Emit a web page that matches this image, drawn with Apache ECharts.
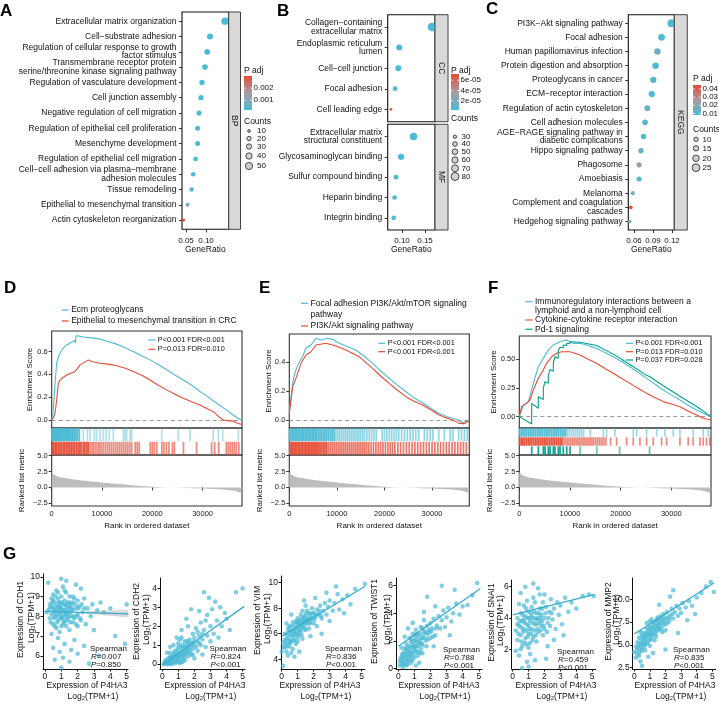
<!DOCTYPE html>
<html>
<head>
<meta charset="utf-8">
<script src="https://cdn.jsdelivr.net/npm/echarts@6.0.0/dist/echarts.min.js"></script>
<style>
html,body{margin:0;padding:0;background:#ffffff;}
#chart{width:719px;height:705px;}
</style>
</head>
<body>
<div id="chart"></div>
<script>
// ================= DATA =================
// ---- Panel A : GO BP ----
const aCats = ['Extracellular matrix organization','Cell\u2212substrate adhesion','Regulation of cellular response to growth\nfactor stimulus','Transmembrane receptor protein\nserine/threonine kinase signaling pathway','Regulation of vasculature development','Cell junction assembly','Negative regulation of cell migration','Regulation of epithelial cell proliferation','Mesenchyme development','Regulation of epithelial cell migration','Cell\u2212cell adhesion via plasma\u2212membrane\nadhesion molecules','Tissue remodeling','Epithelial to mesenchymal transition','Actin cytoskeleton reorganization'];
const aRatio = [0.1475,0.110,0.103,0.0975,0.090,0.0875,0.0825,0.079,0.079,0.074,0.068,0.064,0.054,0.044];
const aPadj  = [0.0002,0.0002,0.0002,0.0002,0.0002,0.0002,0.0002,0.00021,0.00021,0.00022,0.00025,0.0003,0.0008,0.003];
const aCount = [52,37,35,33,31,30,28,27,27,25,23,22,18,12];
const aXTicks = [0.05,0.10];
const aPTicks = [0.001,0.002];
const aCountLegend = [10,20,30,40,50];
// ---- Panel B : GO CC / MF ----
const bCatsCC = ['Collagen\u2212containing\nextracellular matrix','Endoplasmic reticulum\nlumen','Cell\u2212cell junction','Focal adhesion','Cell leading edge'];
const bRatioCC = [0.165,0.094,0.092,0.085,0.076];
const bPadjCC = [2e-6,2e-6,2e-6,3e-6,7.2e-5];
const bCountCC = [85,55,55,42,25];
const bCatsMF = ['Extracellular matrix\nstructural constituent','Glycosaminoglycan binding','Sulfur compound binding','Heparin binding','Integrin binding'];
const bRatioMF = [0.125,0.098,0.087,0.084,0.082];
const bPadjMF = [2e-6,2e-6,2e-6,2e-6,3e-6];
const bCountMF = [75,60,42,40,40];
const bXTicks = [0.10,0.15];
const bPTicks = [2e-5,4e-5,6e-5];
const bCountLegend = [30,40,50,60,70,80];
// ---- Panel C : KEGG ----
const cCats = ['PI3K\u2212Akt signaling pathway','Focal adhesion','Human papillomavirus infection','Protein digestion and absorption','Proteoglycans in cancer','ECM\u2212receptor interaction','Regulation of actin cytoskeleton','Cell adhesion molecules','AGE\u2212RAGE signaling pathway in\ndiabetic complications','Hippo signaling pathway','Phagosome','Amoebiasis','Melanoma','Complement and coagulation\ncascades','Hedgehog signaling pathway'];
const cRatio = [0.119,0.1035,0.097,0.094,0.0905,0.088,0.081,0.0775,0.075,0.071,0.068,0.068,0.058,0.055,0.053];
const cPadj  = [0.008,0.008,0.015,0.008,0.009,0.008,0.013,0.009,0.009,0.014,0.025,0.010,0.016,0.045,0.016];
const cCount = [25,21,20,20,19,19,17,16,15,15,14,14,9,7,6];
const cXTicks = [0.06,0.09,0.12];
const cPTicks = [0.01,0.02,0.03,0.04];
const cCountLegend = [10,15,20,25];

// ---- GSEA (D, E, F) ----
const RANK_MAX = 37830;
const rankTicks = [0,10000,20000,30000];
const metricTicks = [5,2.5,0,-2.5];
const metricRank  = [0,200,500,1000,1500,2000,3000,4000,5000,6000,8000,10000,12000,14000,16000,18000,20000,22000,24000,26000,28000,30000,32000,34000,35000,36000,36500,37000,37500,37830];
const metricValue = [2.4,2.2,2.0,1.8,1.65,1.55,1.45,1.3,1.2,1.1,0.95,0.78,0.62,0.48,0.35,0.22,0.12,0.04,-0.02,-0.07,-0.12,-0.18,-0.25,-0.33,-0.4,-0.5,-0.58,-0.68,-0.85,-1.0];

const dNames = ['Ecm proteoglycans','Epithelial to mesenchymal transition in CRC'];
const dStats = ['P<0.001 FDR<0.001','P=0.013 FDR=0.010'];
const dESBlue = [[0,0.0],[300,0.08],[660,0.32],[990,0.5],[1300,0.55],[1650,0.585],[2100,0.62],[2640,0.645],[3100,0.66],[3640,0.674],[4100,0.685],[4630,0.697],[4700,0.675],[4830,0.738],[5500,0.735],[6280,0.727],[8000,0.72],[9600,0.709],[11000,0.69],[12900,0.665],[14500,0.635],[16200,0.6],[18000,0.56],[19540,0.527],[21000,0.49],[22860,0.44],[24500,0.395],[26160,0.35],[28000,0.3],[29480,0.25],[31000,0.205],[32800,0.147],[34500,0.095],[36100,0.044],[37000,0.015],[37830,0.0]];
const dESRed = [[0,0.0],[330,0.02],[660,0.06],[1000,0.18],[1320,0.32],[1650,0.35],[2300,0.375],[2980,0.395],[3800,0.41],[4630,0.425],[5100,0.45],[5630,0.483],[6500,0.505],[7290,0.527],[7950,0.512],[9600,0.498],[11200,0.49],[12900,0.475],[14500,0.455],[16200,0.425],[18000,0.39],[19540,0.35],[21200,0.305],[22860,0.264],[24500,0.225],[26160,0.19],[27800,0.16],[29480,0.132],[30800,0.1],[32130,0.073],[33200,0.03],[34120,0.0],[35000,-0.005],[36100,-0.01],[37100,-0.03],[37830,-0.04]];
const dHitsBlue = [60,160,260,380,480,600,720,850,980,1100,1230,1350,1500,1650,1800,1950,2150,2300,2450,2650,2850,3000,3200,3400,3600,3850,4100,4350,4600,4830,5150,5500,6290,7090,7610,8480,8940,9600,10260,10800,11450,12250,14240,14600,14910,15570,15900,21870,25170,27500,32130,33130,33990,37100];
const dHitsRed = [100,400,700,1000,1300,1650,1950,2300,2600,2950,3250,3600,3900,4250,4550,4900,5250,5600,5900,6300,6600,7000,7290,7700,8050,8400,8800,9200,9550,9900,10300,10700,11100,11500,11900,12300,12700,13100,13500,13900,14300,14700,15100,15500,15900,16600,17000,17400,19600,20000,20400,20900,21900,22300,22800,23300,24000,24400,26200,28800,31800,32400,33200,34700,35100,35500,35900,36300,36700,37200];

const eNames = ['Focal adhesion PI3K/Akt/mTOR signaling\npathway','PI3K/Akt signaling pathway'];
const eStats = ['P<0.001 FDR<0.001','P<0.001 FDR<0.001'];
const eESBlue = [[0,0.069],[350,0.15],[700,0.254],[1050,0.312],[1750,0.38],[2800,0.44],[3500,0.497],[4550,0.52],[5600,0.566],[6650,0.555],[8050,0.566],[9100,0.559],[10500,0.532],[12200,0.51],[14000,0.485],[15800,0.44],[17500,0.393],[19200,0.34],[21000,0.289],[22800,0.24],[24500,0.196],[26200,0.155],[28000,0.12],[29800,0.08],[31500,0.046],[33000,0.025],[34300,0.012],[35500,0.0],[36400,-0.018],[37100,-0.01],[37830,0.0]];
const eESRed = [[0,0.04],[700,0.23],[1400,0.289],[2450,0.393],[3500,0.45],[4550,0.473],[5600,0.52],[7700,0.532],[9800,0.513],[11900,0.485],[14700,0.439],[17500,0.358],[19200,0.305],[21000,0.254],[22800,0.205],[24500,0.162],[26200,0.13],[28000,0.104],[29800,0.07],[31500,0.035],[33000,0.015],[34300,0.0],[35700,-0.023],[36700,-0.025],[37830,-0.005]];
const eHitsBlue = [50,350,650,950,1250,1550,1850,2150,2450,2750,3050,3350,3650,3950,4250,4550,4850,5150,5450,5750,6100,6450,6800,7150,7500,7850,8200,8600,9000,9400,9800,10200,10600,11000,11400,11800,12200,12600,13000,13400,13800,14200,14600,15000,15400,15800,16300,16800,17300,17800,18300,19500,20000,20500,21000,21500,22000,22500,23000,23600,24200,24800,25400,26000,26600,27200,28400,29000,29600,30200,31400,32600,33800,34400,35600,36200,36800,37400];
const eHitsRed = [100,400,700,1000,1300,1600,1900,2200,2500,2800,3100,3400,3700,4000,4300,4600,4900,5200,5500,5800,6100,6450,6800,7150,7500,7850,8250,8650,9050,9450,9850,10250,10650,11050,11450,11850,12250,12650,13050,13450,13850,14250,14650,15050,15450,15850,16250,16700,17200,17700,18200,18700,19200,19700,20200,20700,21200,21700,22200,22800,23400,24000,24600,25200,25800,26400,27000,27600,28200,28800,29400,30000,30600,31200,31800,32400,33000,33600,34200,34800,35400,36000,36600,37200];

const fNames = ['Immunoregulatory interactions between a\nlymphoid and a non-lymphoid cell','Cytokine-cytokine receptor interaction','Pd-1 signaling'];
const fStats = ['P<0.001 FDR<0.001','P=0.013 FDR=0.010','P=0.037 FDR=0.028'];
const fESBlue = [[0,0],[790,0.1],[1780,0.13],[2760,0.29],[3750,0.435],[4730,0.508],[5720,0.58],[6700,0.625],[8020,0.653],[9340,0.668],[10650,0.639],[11970,0.639],[13600,0.62],[15250,0.595],[16900,0.56],[18540,0.522],[20200,0.48],[21830,0.435],[23500,0.385],[25120,0.334],[26800,0.283],[28410,0.232],[30000,0.19],[31700,0.145],[33300,0.1],[34990,0.058],[36300,0.03],[37830,0.0]];
const fESRed = [[0,0],[460,0.087],[1450,0.116],[2100,0.145],[2760,0.232],[3750,0.334],[4730,0.407],[5390,0.465],[6380,0.522],[7370,0.552],[8350,0.566],[10000,0.566],[11970,0.537],[13600,0.5],[15250,0.465],[16900,0.42],[18540,0.378],[20200,0.333],[21830,0.29],[23500,0.245],[25120,0.203],[26800,0.165],[28410,0.131],[30000,0.11],[31700,0.087],[33300,0.05],[34990,0.015],[36300,-0.014],[37830,-0.029]];
const fESGreen = [[0,0],[2440,-0.064],[2450,0.116],[3750,0.073],[3760,0.174],[4740,0.15],[4750,0.25],[5070,0.24],[5080,0.305],[5720,0.29],[5730,0.36],[6050,0.35],[6060,0.41],[6710,0.395],[6720,0.47],[7040,0.46],[7050,0.523],[7690,0.51],[7700,0.58],[8030,0.575],[8040,0.605],[8680,0.6],[8690,0.625],[9350,0.62],[9360,0.64],[10000,0.635],[10010,0.653],[11990,0.648],[12000,0.66],[15250,0.62],[18540,0.545],[21830,0.455],[25120,0.36],[25700,0.35],[25710,0.36],[28410,0.27],[31700,0.178],[34990,0.088],[37830,0.0]];
const fHitsBlue = [80,400,750,1100,1450,1800,2150,2500,2850,3200,3550,3900,4250,4600,4950,5300,5650,6000,6350,6700,7050,7400,7750,8100,8450,8800,9150,9500,9900,10300,10700,11100,11500,11900,12300,12700,14000,16570,17230,18870,22480,23150,25120,27100,28740,30380,31700,34320,36290,37280];
const fHitsRed = [60,380,700,1050,1400,1750,2100,2450,2800,3150,3500,3850,4200,4550,4900,5250,5600,5950,6300,6650,7000,7350,7700,8050,8400,8750,9100,9450,9800,10150,10500,10850,11200,11550,11900,12250,12600,12950,13300,13650,14000,14350,14700,15100,15500,15900,16300,16700,17100,18000,19200,21180,22490,23810,25120,26430,28080,29070,31700,33330,34320,35640,36290,36950,37610];
const fHitsGreen = [2450,3760,4750,5080,5730,6060,6720,7050,7700,8040,8690,9360,10010,12000,15300,19800,25710];

// ---- Panel G : correlation scatter plots ----
const gGenes = ['CDH1','CDH2','VIM','TWIST1','SNAI1','MMP2'];
const gR = ['0.007','0.824','0.836','0.788','0.459','0.835'];
const gP = ['=0.850','<0.001','<0.001','<0.001','<0.001','<0.001'];
const gXTicks = [0,1,2,3,4,5];
const gYTicks = [[6,7,8,9,10],[0,1,2,3,4],[4,6,8,10],[0,2,4,6],[2,4,6],[2.5,5,7.5,10]];
const cdh1Pts = [[0.2,8.3],[0.3,7.9],[0.3,8.6],[0.4,8.1],[0.4,8.9],[0.5,7.6],[0.5,8.4],[0.5,9.1],[0.6,8.0],[0.6,8.7],[0.7,7.4],[0.7,8.3],[0.7,9.3],[0.8,7.8],[0.8,8.5],[0.8,8.9],[0.9,8.1],[0.9,7.2],[0.9,8.7],[1.0,7.9],[1.0,8.4],[1.0,9.0],[1.0,8.2],[1.1,7.6],[1.1,8.6],[1.1,9.5],[1.2,8.0],[1.2,8.3],[1.2,8.8],[1.3,7.5],[1.3,8.5],[1.3,9.2],[1.4,7.9],[1.4,8.2],[1.4,8.7],[1.5,7.3],[1.5,8.4],[1.5,9.0],[1.6,8.0],[1.6,8.6],[1.7,7.7],[1.7,8.3],[1.8,8.9],[1.8,7.9],[1.9,8.4],[2.0,7.5],[2.0,8.1],[2.0,8.8],[2.1,8.5],[2.2,7.8],[2.3,8.2],[2.4,8.9],[2.5,7.6],[2.6,8.4],[2.8,8.0],[2.9,8.6],[3.0,7.3],[3.2,8.3],[3.4,8.7],[3.6,8.2],[4.0,8.4],[4.3,7.0],[5.0,8.6],[0.1,8.2],[0.2,9.7],[0.5,6.4],[0.6,5.8],[0.8,6.9],[1.0,9.9],[1.1,5.9],[1.2,6.6],[1.3,9.8],[1.5,5.7],[1.6,6.3],[1.8,6.8],[1.9,9.6],[2.0,6.1],[2.2,9.4],[2.4,6.5],[2.7,5.6],[1.0,5.4],[3.3,6.0],[0.4,7.1],[0.9,6.2],[0.6,8.3],[0.9,8.5],[1.2,7.7],[1.5,8.7],[0.4,8.5],[0.7,8.0],[1.3,8.1],[1.7,9.0],[4.9,6.6],
  [0.3,8.4],[0.35,7.7],[0.45,8.7],[0.55,8.2],[0.55,7.9],[0.65,8.5],[0.65,9.0],[0.75,8.1],[0.75,7.7],[0.85,8.3],[0.85,8.7],[0.95,7.9],[0.95,8.4],[1.05,8.0],[1.05,8.7],[1.15,8.3],[1.15,7.8],[1.25,8.6],[1.25,8.1],[1.35,8.3],[1.35,7.8],[1.45,8.5],[1.45,8.0],[1.55,8.2],[1.55,7.7],[1.65,8.4],[1.75,8.0],[1.85,8.6],[1.95,8.0],[2.05,8.4],[2.15,7.9],[2.25,8.6],[0.5,8.8],[0.8,9.2],[1.2,9.3],[1.0,7.5],[0.6,7.5],[1.9,7.6],[2.4,8.4],[1.7,8.7]];
const cdh2Pts = [[0.1,0.0],[0.2,0.05],[0.2,0.2],[0.3,0.0],[0.3,0.1],[0.4,0.3],[0.4,0.05],[0.5,0.1],[0.5,0.4],[0.6,0.2],[0.6,0.0],[0.7,0.5],[0.7,0.15],[0.8,0.3],[0.8,0.7],[0.9,0.1],[0.9,0.45],[1.0,0.6],[1.0,0.25],[1.0,0.9],[1.1,0.4],[1.1,0.05],[1.2,0.7],[1.2,0.3],[1.3,0.9],[1.3,0.5],[1.4,1.2],[1.4,0.2],[1.5,0.6],[1.5,1.0],[1.6,0.8],[1.6,0.4],[1.7,1.3],[1.7,0.9],[1.8,0.5],[1.8,1.1],[1.9,1.6],[1.9,0.8],[2.0,1.0],[2.0,1.4],[2.0,0.3],[2.1,1.9],[2.2,1.2],[2.2,0.7],[2.3,1.5],[2.4,2.2],[2.4,1.0],[2.5,1.3],[2.6,1.8],[2.7,0.9],[2.8,1.5],[2.8,2.6],[3.0,1.2],[3.0,2.0],[3.1,2.9],[3.2,1.6],[3.4,2.3],[3.5,1.4],[3.7,2.0],[3.9,2.7],[4.2,1.8],[4.6,3.8],[5.0,4.0],[2.6,3.8],[2.9,3.5],[1.5,2.4],[1.8,2.9],[1.2,1.8],[0.9,1.4],[0.5,0.9],[2.3,2.8],[3.3,3.3],[4.0,2.4],[1.6,2.0],[2.5,0.5],[0.3,0.6],[0.7,1.0],[1.1,1.3],[2.7,2.3],[3.6,3.0],[0.4,0.0],[0.8,0.05],[1.2,0.1],[0.6,0.35],[1.0,0.45],[1.4,0.65],
  [0.25,0.15],[0.35,0.25],[0.45,0.2],[0.55,0.3],[0.55,0.05],[0.65,0.4],[0.65,0.1],[0.75,0.3],[0.75,0.6],[0.85,0.2],[0.85,0.5],[0.95,0.35],[0.95,0.75],[1.05,0.5],[1.05,0.15],[1.15,0.6],[1.15,0.9],[1.25,0.45],[1.25,1.0],[1.35,0.7],[1.35,0.35],[1.45,0.9],[1.45,0.5],[1.55,0.8],[1.55,1.2],[1.65,0.6],[1.65,1.1],[1.75,0.7],[1.85,1.0],[1.95,1.2],[2.1,0.9],[2.3,1.1],[0.15,0.1],[0.5,0.6],[1.0,1.1],[1.3,0.15],[1.9,0.5],[2.5,1.6],[2.2,1.7],[1.2,1.4]];
const vimPts = [[0.0,4.6],[0.1,3.5],[0.1,5.3],[0.2,5.0],[0.2,6.0],[0.3,4.6],[0.3,5.6],[0.4,5.2],[0.4,6.3],[0.5,5.0],[0.5,5.9],[0.5,6.6],[0.6,5.4],[0.6,6.2],[0.7,4.8],[0.7,5.8],[0.7,6.9],[0.8,5.5],[0.8,6.4],[0.9,6.0],[0.9,7.0],[0.9,5.2],[1.0,6.3],[1.0,5.7],[1.0,7.2],[1.1,6.6],[1.1,5.9],[1.2,6.9],[1.2,6.2],[1.2,7.5],[1.3,6.5],[1.3,5.6],[1.4,7.0],[1.4,6.7],[1.5,6.3],[1.5,7.4],[1.6,6.8],[1.6,7.8],[1.7,7.1],[1.7,6.4],[1.8,7.5],[1.8,6.9],[1.9,7.2],[1.9,8.0],[2.0,6.8],[2.0,7.6],[2.1,7.3],[2.2,7.9],[2.2,6.6],[2.3,7.5],[2.4,8.2],[2.5,7.2],[2.6,7.8],[2.7,8.4],[2.8,7.5],[2.9,8.1],[3.0,7.0],[3.0,8.6],[3.2,7.8],[3.3,8.4],[3.5,9.1],[3.6,7.9],[3.8,8.7],[4.1,9.0],[4.3,8.3],[4.6,9.5],[3.4,9.7],[5.2,9.9],[1.4,8.6],[0.6,7.5],[2.5,6.0],[1.1,4.6],[0.3,6.8],[1.8,5.8],[2.8,9.2],[3.9,7.6],[0.8,4.2],[1.5,8.2],[2.1,8.8],[0.4,4.3],[0.2,5.5],[0.5,5.4],[0.8,6.1],[1.1,6.9],[1.3,7.2],[1.6,7.1],
  [0.25,5.3],[0.35,5.9],[0.45,5.6],[0.45,6.5],[0.55,6.2],[0.55,5.3],[0.65,5.9],[0.65,6.6],[0.75,6.2],[0.75,5.5],[0.85,6.7],[0.85,5.9],[0.95,6.4],[0.95,6.9],[1.05,6.0],[1.05,6.7],[1.15,6.3],[1.15,7.1],[1.25,6.6],[1.25,5.9],[1.35,6.9],[1.35,7.3],[1.45,6.4],[1.45,7.1],[1.55,6.9],[1.55,7.6],[1.65,7.2],[1.75,6.8],[1.75,7.6],[1.85,7.2],[1.95,7.6],[2.05,7.1],[2.15,7.5],[2.35,7.8],[2.45,7.4],[0.15,4.9],[0.35,5.0],[0.6,4.5],[1.0,5.4],[1.3,7.8]];
const twist1Pts = [[0.1,0.5],[0.1,0.2],[0.2,0.8],[0.2,0.3],[0.3,1.1],[0.3,0.6],[0.4,0.4],[0.4,1.4],[0.5,0.9],[0.5,0.2],[0.5,1.8],[0.6,1.2],[0.6,0.6],[0.7,1.5],[0.7,0.9],[0.7,2.2],[0.8,1.1],[0.8,0.4],[0.9,1.7],[0.9,2.5],[1.0,1.3],[1.0,2.0],[1.0,0.8],[1.1,1.6],[1.1,2.8],[1.2,2.1],[1.2,1.2],[1.3,1.8],[1.3,2.5],[1.4,1.4],[1.4,3.0],[1.5,2.2],[1.5,1.7],[1.6,2.7],[1.6,3.5],[1.7,2.0],[1.8,2.5],[1.8,3.1],[1.9,2.8],[2.0,2.2],[2.0,3.3],[2.1,2.9],[2.2,3.6],[2.3,2.4],[2.4,3.1],[2.5,3.8],[2.6,2.9],[2.7,3.5],[2.8,4.2],[2.9,3.0],[3.0,3.7],[3.1,4.4],[3.3,3.4],[3.4,4.0],[3.6,4.7],[3.8,3.9],[4.0,4.5],[4.3,4.6],[4.9,6.2],[1.8,5.2],[2.3,4.5],[2.7,6.0],[3.5,5.7],[0.9,3.3],[0.4,2.3],[1.3,0.4],[2.2,1.6],[3.2,2.4],[0.6,2.9],[1.6,4.1],[4.6,5.3],[0.2,1.5],[1.1,0.2],[0.3,0.1],[0.6,0.3],[0.9,0.6],[1.2,0.9],[1.5,1.1],[0.8,1.9],[1.0,1.6],
  [0.15,0.7],[0.25,0.5],[0.35,0.9],[0.35,0.3],[0.45,0.7],[0.45,1.1],[0.55,0.5],[0.55,1.3],[0.65,0.9],[0.65,1.6],[0.75,1.2],[0.75,0.6],[0.85,1.5],[0.85,0.9],[0.95,1.1],[0.95,2.0],[1.05,1.5],[1.05,2.3],[1.15,1.2],[1.15,1.9],[1.25,1.6],[1.25,2.4],[1.35,2.0],[1.35,1.1],[1.45,2.2],[1.45,1.8],[1.55,2.5],[1.65,2.2],[1.75,2.6],[1.75,1.6],[1.85,2.1],[1.95,2.6],[2.05,2.7],[2.15,2.3],[2.35,2.9],[0.25,1.0],[0.5,1.5],[0.8,2.1],[1.1,2.5],[1.5,2.9]];
const snai1Pts = [[0.2,3.2],[0.3,2.6],[0.3,4.0],[0.4,3.5],[0.4,1.6],[0.5,2.9],[0.5,4.3],[0.6,3.8],[0.6,2.2],[0.7,3.3],[0.7,4.8],[0.8,2.7],[0.8,4.1],[0.9,3.6],[0.9,1.2],[0.9,5.1],[1.0,3.0],[1.0,4.4],[1.0,0.9],[1.1,3.8],[1.1,2.4],[1.2,4.7],[1.2,3.3],[1.3,4.0],[1.3,2.8],[1.3,6.2],[1.4,3.6],[1.4,5.0],[1.5,4.3],[1.5,2.5],[1.6,3.9],[1.6,3.1],[1.7,4.6],[1.7,5.5],[1.8,3.5],[1.8,4.2],[1.9,2.9],[1.9,5.0],[2.0,4.0],[2.0,3.3],[2.1,4.7],[2.2,3.7],[2.2,2.2],[2.3,4.4],[2.4,5.2],[2.5,3.9],[2.6,4.6],[2.7,3.3],[2.8,5.0],[2.9,4.2],[3.0,4.8],[3.1,3.6],[3.3,5.3],[3.5,4.4],[3.7,5.0],[4.0,4.6],[4.4,5.4],[4.8,5.5],[5.1,5.4],[0.5,5.6],[0.2,1.9],[1.1,1.7],[2.1,1.4],[0.8,6.0],[1.6,5.9],[2.6,2.6],[3.2,2.9],[0.4,4.9],[1.4,1.3],[0.6,0.8],[0.7,3.9],[1.0,3.5],[1.2,4.1],[1.5,3.6],[0.9,2.3],[1.7,3.7],
  [0.35,3.0],[0.45,3.8],[0.55,3.4],[0.55,2.5],[0.65,4.2],[0.65,3.1],[0.75,3.7],[0.75,2.4],[0.85,3.2],[0.85,4.6],[0.95,4.0],[0.95,2.8],[1.05,3.3],[1.05,4.0],[1.15,4.3],[1.15,3.0],[1.25,3.7],[1.25,2.6],[1.35,4.4],[1.35,3.2],[1.45,3.9],[1.45,2.9],[1.55,4.0],[1.55,3.3],[1.65,4.3],[1.75,3.2],[1.75,4.0],[1.85,3.8],[1.85,4.6],[1.95,3.5],[2.05,4.3],[2.15,3.1],[2.25,4.0],[2.35,3.5],[2.45,4.3],[0.3,3.6],[0.5,2.0],[1.0,2.1],[1.3,5.3],[2.0,5.5]];
const mmp2Pts = [[0.0,4.2],[0.1,3.6],[0.1,4.8],[0.2,5.3],[0.2,4.0],[0.3,4.6],[0.3,5.8],[0.4,5.1],[0.4,3.2],[0.5,4.4],[0.5,6.0],[0.6,5.5],[0.6,4.8],[0.7,6.3],[0.7,5.0],[0.8,5.8],[0.8,6.8],[0.9,5.4],[0.9,6.5],[1.0,6.1],[1.0,7.0],[1.0,4.9],[1.1,6.6],[1.1,5.7],[1.2,7.3],[1.2,6.2],[1.3,6.9],[1.3,5.5],[1.4,7.6],[1.4,6.5],[1.5,7.1],[1.5,8.0],[1.6,6.8],[1.6,7.5],[1.7,8.2],[1.7,7.0],[1.8,7.7],[1.9,8.4],[1.9,7.2],[2.0,7.9],[2.0,6.6],[2.1,8.6],[2.2,7.5],[2.3,8.2],[2.4,9.0],[2.5,7.9],[2.6,8.6],[2.7,9.3],[2.8,8.2],[2.9,9.0],[3.0,8.5],[3.1,9.6],[3.3,9.1],[3.5,9.8],[3.7,9.3],[4.0,10.2],[4.3,10.7],[4.6,11.4],[4.9,11.9],[5.1,10.8],[2.0,4.5],[1.2,4.1],[0.5,2.7],[2.8,6.3],[3.4,7.7],[1.6,9.4],[2.3,10.3],[0.9,3.7],[3.9,8.4],[2.5,11.0],[0.4,6.4],[0.8,7.4],[1.1,7.8],[1.4,5.9],[0.6,5.9],[1.8,6.4],
  [0.15,4.4],[0.25,4.9],[0.35,5.2],[0.35,4.2],[0.45,5.6],[0.45,4.7],[0.55,5.2],[0.55,6.3],[0.65,5.8],[0.65,5.1],[0.75,6.0],[0.75,5.4],[0.85,6.3],[0.85,5.2],[0.95,6.0],[0.95,6.8],[1.05,6.4],[1.05,5.6],[1.15,6.9],[1.15,6.1],[1.25,6.6],[1.25,7.5],[1.35,7.1],[1.35,6.2],[1.45,6.9],[1.45,7.8],[1.55,7.3],[1.55,6.6],[1.65,7.9],[1.75,7.4],[1.75,6.7],[1.85,8.0],[1.95,7.6],[2.05,7.3],[2.15,8.0],[2.25,7.8],[2.45,8.4],[0.3,3.8],[0.7,4.4],[1.0,7.6]];
const gPts = [cdh1Pts, cdh2Pts, vimPts, twist1Pts, snai1Pts, mmp2Pts];
const gFit = [[[0,8.25],[5.1,8.12]],[[0,-0.05],[5.1,3.05]],[[0,5.8],[5.2,9.7]],[[0,1.6],[5.1,5.8]],[[0,4.2],[5.1,5.5]],[[0,6.2],[5.1,11.8]]];
const cdh1CiLow  = [[2.5,8.13],[3.0,8.1],[3.5,8.07],[4.0,8.03],[4.5,7.99],[5.1,7.95]];
const cdh1CiHigh = [[2.5,8.26],[3.0,8.27],[3.5,8.28],[4.0,8.29],[4.5,8.3],[5.1,8.31]];

// ================= BUILD =================
const FONT = '"Liberation Sans", Arial, Helvetica, sans-serif';
const BLUE = '#4DBBD5', RED = '#E64B35', GREEN = '#00A087', MID = '#A89AA0';
const grid = [], xAxis = [], yAxis = [], series = [], graphic = [], visualMap = [];

function txt(x, y, text, o) {
  o = o || {};
  const st = {text: text, fontSize: o.fs || 8.5, fontFamily: FONT, fontWeight: o.bold ? 'bold' : 'normal', fill: o.color || '#111',
    align: o.align || 'left', verticalAlign: o.va || 'middle', textAlign: o.align || 'left', textVerticalAlign: o.va || 'middle'};
  if (o.lh) st.lineHeight = o.lh;
  if (o.rich) st.rich = o.rich;
  graphic.push({type: 'text', x: x, y: y, rotation: o.rot || 0, silent: true, z: 60, style: st});
}
function gline(x1, y1, x2, y2, color, w) {
  graphic.push({type: 'line', silent: true, z: 60, shape: {x1: x1, y1: y1, x2: x2, y2: y2}, style: {stroke: color, lineWidth: w || 1}});
}
function grect(x, y, w, h, fill, stroke, lw) {
  const st = {fill: fill};
  if (stroke) { st.stroke = stroke; st.lineWidth = lw || 1; }
  graphic.push({type: 'rect', silent: true, z: 55, shape: {x: x, y: y, width: w, height: h}, style: st});
}
function gcirc(cx, cy, r, fill, stroke) {
  graphic.push({type: 'circle', silent: true, z: 60, shape: {cx: cx, cy: cy, r: r}, style: {fill: fill, stroke: stroke, lineWidth: 0.8}});
}
function interpSize(c, map) {
  let i = 1;
  while (i < map.length - 1 && c > map[i][0]) i++;
  const c0 = map[i-1][0], s0 = map[i-1][1], c1 = map[i][0], s1 = map[i][1];
  return Math.max(2, s0 + (c - c0) * (s1 - s0) / (c1 - c0));
}

// ---------- bubble facets ----------
function bubbleFacet(L) {
  const gi = grid.length;
  grid.push({left: L.left, top: L.top, width: L.width, height: L.height, show: true, borderColor: '#111', borderWidth: 1.1});
  xAxis.push({type: 'value', gridIndex: gi, min: L.xmin, max: L.xmax, axisLine: {show: false}, splitLine: {show: false},
    axisTick: {show: L.showX, length: 3, lineStyle: {color: '#333'}, customValues: L.xticks},
    axisLabel: {show: L.showX, customValues: L.xticks, formatter: function (v) { return v.toFixed(2); }, fontSize: 8, fontFamily: FONT, color: '#111', margin: 7}});
  const ys = L.cats.map(function (c, i) { return i + 1; });
  yAxis.push({type: 'value', gridIndex: gi, min: 0.4, max: L.cats.length + 0.6, inverse: true, axisLine: {show: false}, splitLine: {show: false},
    axisTick: {show: true, length: 3, lineStyle: {color: '#333'}, customValues: ys},
    axisLabel: {customValues: ys, formatter: function (v) { return L.cats[Math.round(v) - 1] || ''; }, fontSize: 8.5, fontFamily: FONT, color: '#111', margin: 5.5, lineHeight: 8.5, align: 'right'}});
  series.push({type: 'scatter', xAxisIndex: gi, yAxisIndex: gi, z: 5, silent: true,
    data: L.cats.map(function (c, i) { return [L.ratio[i], i + 1, L.padj[i], L.count[i]]; }),
    symbolSize: function (v) { return interpSize(v[3], L.sizeMap); }, itemStyle: {opacity: 1}});
  visualMap.push({type: 'continuous', show: false, seriesIndex: series.length - 1, dimension: 2, min: L.pmin, max: L.pmax, inRange: {color: [BLUE, MID, RED]}});
  grect(L.left + L.width, L.top, L.stripW, L.height, '#D9D9D9', '#444', 1);
  txt(L.left + L.width + L.stripW / 2, L.top + L.height / 2, L.strip, {fs: 8.5, align: 'center', rot: -Math.PI / 2, color: '#1a1a1a'});
}
function bubbleLegend(G) {
  txt(G.x, G.titleY, 'P adj', {fs: 8.5});
  grect(G.x, G.cbTop, 8, G.cbH, new echarts.graphic.LinearGradient(0, 0, 0, 1, [{offset: 0, color: RED}, {offset: 0.5, color: MID}, {offset: 1, color: BLUE}]));
  G.pticks.forEach(function (v) {
    const y = G.cbTop + G.cbH * (1 - (v - G.pmin) / (G.pmax - G.pmin));
    gline(G.x, y, G.x + 1.8, y, '#fff', 0.8);
    gline(G.x + 6.2, y, G.x + 8, y, '#fff', 0.8);
    txt(G.x + 9.5, y, G.fmt(v), {fs: 8});
  });
  txt(G.x, G.countsY, 'Counts', {fs: 8.5});
  G.counts.forEach(function (c, i) {
    gcirc(G.cx, G.cy[i], interpSize(c, G.sizeMap) / 2, '#D0D0D0', '#222');
    txt(G.lx, G.cy[i], String(c), {fs: 8});
  });
}

const aSize = [[10,2.7],[20,4.3],[30,5.3],[40,6.3],[50,7.2]];
const bSize = [[30,3.3],[40,4.7],[50,5.7],[60,6.3],[70,7.0],[80,8.0]];
const cSize = [[5,3.2],[10,4.4],[15,5.4],[20,6.5],[25,7.8]];

bubbleFacet({left: 182, top: 12, width: 46.7, height: 217.3, xmin: 0.04, xmax: 0.1567, xticks: aXTicks, showX: true,
  cats: aCats, ratio: aRatio, padj: aPadj, count: aCount, pmin: 0.0002, pmax: 0.003, sizeMap: aSize, strip: 'BP', stripW: 11.8});
bubbleFacet({left: 387.7, top: 14.7, width: 47.3, height: 107, xmin: 0.0689, xmax: 0.1717, xticks: bXTicks, showX: false,
  cats: bCatsCC, ratio: bRatioCC, padj: bPadjCC, count: bCountCC, pmin: 2e-6, pmax: 7.2e-5, sizeMap: bSize, strip: 'CC', stripW: 13});
bubbleFacet({left: 387.7, top: 124.3, width: 47.3, height: 105.7, xmin: 0.0689, xmax: 0.1717, xticks: bXTicks, showX: true,
  cats: bCatsMF, ratio: bRatioMF, padj: bPadjMF, count: bCountMF, pmin: 2e-6, pmax: 7.2e-5, sizeMap: bSize, strip: 'MF', stripW: 13});
bubbleFacet({left: 628.3, top: 14.7, width: 46, height: 215.3, xmin: 0.051, xmax: 0.1236, xticks: cXTicks, showX: true,
  cats: cCats, ratio: cRatio, padj: cPadj, count: cCount, pmin: 0.008, pmax: 0.045, sizeMap: cSize, strip: 'KEGG', stripW: 13});

txt(205.3, 250, 'GeneRatio', {align: 'center'});
txt(411.3, 250, 'GeneRatio', {align: 'center'});
txt(651.3, 250, 'GeneRatio', {align: 'center'});

bubbleLegend({x: 244, titleY: 71, cbTop: 76, cbH: 34, pmin: 0.0002, pmax: 0.003, pticks: aPTicks, fmt: function (v) { return v.toFixed(3); },
  countsY: 122, counts: aCountLegend, cx: 249, cy: [131, 138.5, 146.5, 156, 166], lx: 257, sizeMap: aSize});
bubbleLegend({x: 451, titleY: 71, cbTop: 74, cbH: 36, pmin: 2e-6, pmax: 7.2e-5, pticks: bPTicks, fmt: function (v) { return v.toExponential(0).replace('e-', 'e-0'); },
  countsY: 119, counts: bCountLegend, cx: 455, cy: [136.7, 144, 151.7, 160, 168.3, 176.5], lx: 461.5, sizeMap: bSize});
bubbleLegend({x: 693, titleY: 79, cbTop: 85, cbH: 30, pmin: 0.008, pmax: 0.045, pticks: cPTicks, fmt: function (v) { return v.toFixed(2); },
  countsY: 129.3, counts: cCountLegend, cx: 696, cy: [139.3, 148.3, 158.3, 167.7], lx: 702.5, sizeMap: cSize});

// ---------- GSEA panels ----------
function gseaPanel(P) {
  const g1 = grid.length;
  grid.push({left: P.left, top: P.esTop, width: P.width, height: 428 - P.esTop, show: true, borderColor: '#333', borderWidth: 1.1});
  xAxis.push({type: 'value', gridIndex: g1, min: 0, max: RANK_MAX, show: false});
  yAxis.push({type: 'value', gridIndex: g1, min: P.esMin, max: P.esMax, axisLine: {show: false}, splitLine: {show: false},
    axisTick: {length: 3, lineStyle: {color: '#333'}, customValues: P.esTicks},
    axisLabel: {customValues: P.esTicks, formatter: function (v) { return v.toFixed(P.esDec); }, fontSize: 7.5, fontFamily: FONT, color: '#222', margin: 4}});
  P.curves.forEach(function (c, i) {
    const s = {type: 'line', xAxisIndex: g1, yAxisIndex: g1, data: c.data, symbol: 'none', lineStyle: {color: c.color, width: 1.1}, z: 4 + i, silent: true};
    if (i === 0) s.markLine = {silent: true, symbol: 'none', label: {show: false}, lineStyle: {color: '#9a9a9a', type: [4, 3], width: 1}, data: [{yAxis: 0}]};
    series.push(s);
  });
  const g2 = grid.length;
  grid.push({left: P.left, top: 428, width: P.width, height: 27, show: true, borderColor: '#333', borderWidth: 1.1});
  xAxis.push({type: 'value', gridIndex: g2, min: 0, max: RANK_MAX, show: false});
  yAxis.push({type: 'value', gridIndex: g2, min: 0, max: P.rows.length, inverse: true, show: false});
  const rh = 27 / P.rows.length;
  P.rows.forEach(function (r, ri) {
    series.push({type: 'scatter', xAxisIndex: g2, yAxisIndex: g2, symbol: 'rect', symbolSize: [1.7, rh - 0.6], silent: true, z: 3,
      data: r.hits.map(function (h) { return {value: [h, ri + 0.5], itemStyle: {opacity: h <= r.peak ? 0.95 : r.after}}; }),
      itemStyle: {color: r.color}});
  });
  const g3 = grid.length;
  grid.push({left: P.left, top: 455, width: P.width, height: 51, show: true, borderColor: '#333', borderWidth: 1.1});
  xAxis.push({type: 'value', gridIndex: g3, min: 0, max: RANK_MAX, axisLine: {show: false}, splitLine: {show: false},
    axisTick: {length: 3, lineStyle: {color: '#333'}, customValues: rankTicks},
    axisLabel: {customValues: rankTicks, formatter: function (v) { return String(v); }, fontSize: 7.5, fontFamily: FONT, color: '#222', margin: 4}});
  yAxis.push({type: 'value', gridIndex: g3, min: -2.93, max: 5.11, axisLine: {show: false}, splitLine: {show: false},
    axisTick: {length: 3, lineStyle: {color: '#333'}, customValues: metricTicks},
    axisLabel: {customValues: metricTicks, formatter: function (v) { return (v < 0 ? '\u2212' : '') + Math.abs(v).toFixed(1); }, fontSize: 7.5, fontFamily: FONT, color: '#222', margin: 4}});
  series.push({type: 'line', xAxisIndex: g3, yAxisIndex: g3, silent: true, symbol: 'none', lineStyle: {opacity: 0},
    data: metricRank.map(function (r, i) { return [r, metricValue[i]]; }), areaStyle: {color: '#BDBDBD', opacity: 1, origin: 'auto'}});
  txt(P.esTitleX, P.esTop + (428 - P.esTop) / 2, 'Enrichment Score', {fs: 8, align: 'center', rot: Math.PI / 2});
  txt(P.left - 30, 480.5, 'Ranked list metric', {fs: 8, align: 'center', rot: Math.PI / 2});
  txt(P.left + P.width / 2, 526, 'Rank in ordered dataset', {fs: 8, align: 'center'});
  P.legend.forEach(function (L, i) {
    gline(P.legX, L.y, P.legX + 7, L.y, P.curves[i].color, 1.2);
    txt(P.legX + 9.5, L.y - P.legLH / 2, L.text, {fs: 8.5, va: 'top', lh: P.legLH});
  });
  P.stats.forEach(function (s, i) {
    gline(P.statX, P.statY[i], P.statX + 7, P.statY[i], P.curves[i].color, 1.2);
    txt(P.statX + 9.5, P.statY[i], s, {fs: 7.3});
  });
}

gseaPanel({left: 51.7, width: 190.3, esTop: 331, esMin: -0.07, esMax: 0.78, esTicks: [0, 0.2, 0.4, 0.6], esDec: 1, esTitleX: 29.7,
  curves: [{data: dESBlue, color: BLUE}, {data: dESRed, color: RED}],
  rows: [{hits: dHitsBlue, color: BLUE, peak: 5500, after: 0.45}, {hits: dHitsRed, color: RED, peak: 7300, after: 0.65}],
  legX: 61.7, legLH: 11, legend: [{y: 310, text: dNames[0]}, {y: 321, text: dNames[1]}],
  statX: 148.3, statY: [340, 349.3], stats: dStats});
gseaPanel({left: 289.3, width: 180, esTop: 334, esMin: -0.055, esMax: 0.596, esTicks: [0, 0.2, 0.4], esDec: 1, esTitleX: 268.5,
  curves: [{data: eESBlue, color: BLUE}, {data: eESRed, color: RED}],
  rows: [{hits: eHitsBlue, color: BLUE, peak: 9500, after: 0.62}, {hits: eHitsRed, color: RED, peak: 8000, after: 0.75}],
  legX: 301, legLH: 11, legend: [{y: 303.3, text: eNames[0]}, {y: 326, text: eNames[1]}],
  statX: 378.3, statY: [343.3, 351.7], stats: eStats});
gseaPanel({left: 519.3, width: 191.7, esTop: 336, esMin: -0.099, esMax: 0.703, esTicks: [0, 0.25, 0.5], esDec: 2, esTitleX: 493.3,
  curves: [{data: fESBlue, color: BLUE}, {data: fESRed, color: RED}, {data: fESGreen, color: GREEN}],
  rows: [{hits: fHitsBlue, color: BLUE, peak: 9400, after: 0.55}, {hits: fHitsRed, color: RED, peak: 8400, after: 0.65}, {hits: fHitsGreen, color: GREEN, peak: 10100, after: 0.6}],
  legX: 525.5, legLH: 9.3, legend: [{y: 301.7, text: fNames[0]}, {y: 320, text: fNames[1]}, {y: 329.3, text: fNames[2]}],
  statX: 626, statY: [343.3, 351.7, 360], stats: fStats});

// ---------- Scatter panels (G) ----------
const gLayout = [
  {left: 43, top: 574, width: 85, height: 95, xmin: -0.12, xmax: 5.08, ymin: 5.33, ymax: 10.14, yt1: 21, yt2: 32, xtc: 87, sx: 90, sy: 649, ydec: 0},
  {left: 160, top: 578, width: 85, height: 91, xmin: -0.14, xmax: 5.15, ymin: -0.26, ymax: 4.55, yt1: 136.7, yt2: 146.7, xtc: 205, sx: 209.5, sy: 649, ydec: 0},
  {left: 281, top: 576, width: 84, height: 93, xmin: -0.04, xmax: 5.21, ymin: 3.24, ymax: 10.52, yt1: 258, yt2: 268, xtc: 320, sx: 325, sy: 649, ydec: 0},
  {left: 396, top: 578, width: 86, height: 91, xmin: -0.14, xmax: 5.2, ymin: -0.05, ymax: 6.56, yt1: 375, yt2: 387.5, xtc: 439, sx: 443, sy: 649.3, ydec: 0},
  {left: 511.7, top: 580, width: 84, height: 89, xmin: -0.06, xmax: 5.22, ymin: 0.74, ymax: 6.43, yt1: 491.7, yt2: 500.7, xtc: 556, sx: 557, sy: 651.7, ydec: 0},
  {left: 632.7, top: 578, width: 83, height: 91, xmin: -0.1, xmax: 5.22, ymin: 2.36, ymax: 12.34, yt1: 608.3, yt2: 616.7, xtc: 675, sx: 673, sy: 650, ydec: 1}
];
const richStat = {i: {fontStyle: 'italic', fontSize: 8, fontFamily: FONT, fill: '#111'}, n: {fontSize: 8, fontFamily: FONT, fill: '#111'}};
gGenes.forEach(function (gene, k) {
  const L = gLayout[k];
  const gi = grid.length;
  grid.push({left: L.left, top: L.top, width: L.width, height: L.height, show: false});
  xAxis.push({type: 'value', gridIndex: gi, min: L.xmin, max: L.xmax, axisLine: {show: true, onZero: false, lineStyle: {color: '#111', width: 1}}, splitLine: {show: false},
    axisTick: {length: 2.5, lineStyle: {color: '#111'}, customValues: gXTicks},
    axisLabel: {customValues: gXTicks, formatter: function (v) { return String(v); }, fontSize: 8.5, fontFamily: FONT, color: '#111', margin: 3}});
  yAxis.push({type: 'value', gridIndex: gi, min: L.ymin, max: L.ymax, axisLine: {show: true, onZero: false, lineStyle: {color: '#111', width: 1}}, splitLine: {show: false},
    axisTick: {length: 2.5, lineStyle: {color: '#111'}, customValues: gYTicks[k]},
    axisLabel: {customValues: gYTicks[k], formatter: function (v) { return v.toFixed(L.ydec); }, fontSize: 8.5, fontFamily: FONT, color: '#111', margin: 3}});
  series.push({type: 'scatter', xAxisIndex: gi, yAxisIndex: gi, data: gPts[k], symbolSize: 4.6, silent: true, z: 3, itemStyle: {color: BLUE, opacity: 0.72}});
  if (k === 0) {
    series.push({type: 'custom', xAxisIndex: gi, yAxisIndex: gi, data: [0], silent: true, z: 5,
      renderItem: function (params, api) {
        const pts = cdh1CiHigh.map(function (d) { return api.coord(d); }).concat(cdh1CiLow.slice().reverse().map(function (d) { return api.coord(d); }));
        return {type: 'polygon', shape: {points: pts}, style: {fill: 'rgba(170,170,170,0.45)'}};
      }});
  }
  series.push({type: 'line', xAxisIndex: gi, yAxisIndex: gi, data: gFit[k], symbol: 'none', silent: true, z: 6, lineStyle: {color: '#3AAACD', width: 1.3}});
  txt(L.yt1, L.top + L.height / 2 - 2, 'Expression of ' + gene, {align: 'center', rot: Math.PI / 2});
  txt(L.yt2, L.top + L.height / 2 - 4, 'Log\u2082(TPM+1)', {align: 'center', rot: Math.PI / 2});
  txt(L.xtc, 685.7, 'Expression of P4HA3', {align: 'center'});
  txt(L.xtc + 6, 696.5, 'Log\u2082(TPM+1)', {align: 'center'});
  txt(L.sx, L.sy, 'Spearman', {fs: 8});
  txt(L.sx + 1, L.sy + 8, '{i|R}{n|=' + gR[k] + '}', {fs: 8, rich: richStat});
  txt(L.sx + 1, L.sy + 16, '{i|P}{n|' + gP[k] + '}', {fs: 8, rich: richStat});
});

// ---------- Panel letters ----------
[['A', 0, 11], ['B', 277, 11], ['C', 486, 9.5], ['D', 4, 288], ['E', 259, 288], ['F', 488, 288], ['G', 3, 554]].forEach(function (p) {
  txt(p[1], p[2], p[0], {fs: 17, bold: true, color: '#000'});
});

const chart = echarts.init(document.getElementById('chart'), null, {renderer: 'canvas'});
chart.setOption({
  animation: false,
  backgroundColor: '#ffffff',
  textStyle: {fontFamily: FONT},
  grid: grid, xAxis: xAxis, yAxis: yAxis, series: series, visualMap: visualMap, graphic: graphic
});
</script>
</body>
</html>
